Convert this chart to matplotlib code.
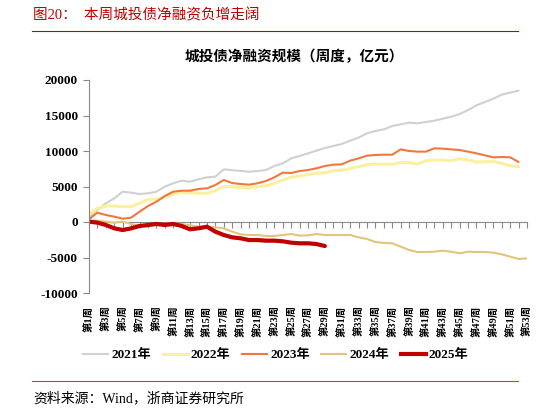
import numpy as np
import matplotlib
matplotlib.use("Agg")
import matplotlib.pyplot as plt
from matplotlib.lines import Line2D

plt.rcParams['font.family'] = ['Liberation Serif', 'Noto Sans CJK SC']
plt.rcParams['axes.unicode_minus'] = False

# weekly cumulative net financing of LGFV bonds (100 million yuan)
weeks = [f"第{i}周" for i in range(1, 54)]

y2021 = [700, 1690, 2630, 3330, 4270, 4130, 3940, 4040, 4270, 4980,
         5450, 5820, 5680, 6010, 6290, 6380, 7420, 7300, 7200, 7090,
         7180, 7320, 7890, 8260, 8960, 9300, 9670, 10050, 10420, 10700,
         10990, 11450, 11880, 12490, 12820, 13050, 13520, 13750, 13990, 13900,
         14080, 14270, 14550, 14830, 15210, 15770, 16430, 16900, 17370, 17940,
         18220, 18500]
y2022 = [1130, 1930, 2250, 2250, 2160, 2160, 2630, 3190, 3190, 3470,
         3940, 4130, 4130, 4040, 4040, 4410, 4980, 4980, 4880, 4790,
         4980, 5070, 5450, 5920, 6290, 6480, 6670, 6850, 6950, 7230,
         7320, 7510, 7790, 8070, 8170, 8150, 8120, 8360, 8360, 8170,
         8640, 8730, 8730, 8640, 8920, 8730, 8450, 8500, 8540, 8260,
         7930, 7790]
y2023 = [400, 1310, 990, 750, 470, 610, 1450, 2250, 2860, 3660,
         4270, 4410, 4410, 4650, 4740, 5210, 5920, 5490, 5350, 5260,
         5450, 5770, 6290, 6950, 6900, 7180, 7320, 7560, 7890, 8070,
         8120, 8640, 8960, 9340, 9440, 9480, 9480, 10230, 10000, 9910,
         9910, 10380, 10330, 10230, 10140, 9910, 9670, 9390, 9110, 9150,
         9110, 8450]
y2024 = [190, 190, 50, -90, 50, -280, -560, -660, -280, -280,
         -190, -280, -470, -660, -660, -750, -890, -1360, -1740, -1830,
         -1830, -1970, -1970, -1830, -1690, -1920, -1880, -1690, -1830, -1830,
         -1830, -1830, -2160, -2390, -2820, -2950, -3000, -3470, -3940, -4230,
         -4230, -4180, -4040, -4180, -4410, -4180, -4230, -4230, -4320, -4550,
         -4880, -5210, -5120]
y2025 = [50, -90, -420, -890, -1130, -890, -560, -420, -280, -420,
         -280, -560, -1030, -890, -660, -1360, -1830, -2160, -2300, -2540,
         -2540, -2630, -2630, -2720, -2910, -3000, -3000, -3100, -3380]

series = [
    ("2021年", y2021, "#D0D0D0", 1.5),
    ("2022年", y2022, "#FAF0A0", 2.2),
    ("2023年", y2023, "#F07840", 1.5),
    ("2024年", y2024, "#E3C47C", 1.5),
    ("2025年", y2025, "#C00000", 3.0),
]

fig = plt.figure(figsize=(5.48, 4.12), dpi=100)
ax = fig.add_axes([89 / 548, 1 - 293 / 412, 438 / 548, 213 / 412])

for name, vals, color, lw in series:
    x = np.arange(1, len(vals) + 1)
    ax.plot(x, vals, color=color, lw=lw, label=name, solid_capstyle='round')

ax.set_xlim(1, 53)
ax.set_ylim(-10000, 20000)
ax.set_yticks(range(-10000, 20001, 5000))
ax.tick_params(axis='y', direction='out', length=4, color='#888888',
               labelsize=9.5, pad=4)
for lab in ax.get_yticklabels():
    lab.set_fontweight('bold')

for s in ['top', 'right', 'bottom']:
    ax.spines[s].set_visible(False)
ax.spines['left'].set_color('#888888')

# week labels at the bottom, no tick marks
ax.set_xticks(range(1, 54, 2))
ax.set_xticklabels(weeks[::2], rotation=90, fontsize=7.5, fontweight='bold')
ax.tick_params(axis='x', length=0, pad=9)

# zero line with tick marks
sec = ax.secondary_xaxis(1 / 3)
sec.set_xticks(range(1, 54))
sec.tick_params(axis='x', direction='out', length=4, color='#888888',
                labelbottom=False, labeltop=False)
sec.spines['bottom'].set_color('#888888')
sec.spines['top'].set_color('#888888')

handles = [Line2D([], [], color=c, lw=lw) for _, _, c, lw in series]
fig.legend(handles, [s[0] for s in series], loc='center', ncol=5,
           bbox_to_anchor=(276 / 548, 1 - 355 / 412), frameon=False,
           prop={'size': 9.5, 'weight': 'bold'}, handlelength=1.9,
           handletextpad=0.25, columnspacing=0.85)

fig.text(185 / 548, 1 - 57 / 412, "城投债净融资规模（周度，亿元）",
         fontsize=10.5, fontweight='bold', va='center', ha='left')

fig.text(33 / 548, 1 - 15 / 412, "图20：  本周城投债净融资负增走阔",
         fontsize=10.5, color='#C00000', va='center', ha='left')
fig.add_artist(Line2D([32 / 548, 518 / 548], [1 - 31 / 412, 1 - 31 / 412],
                      color='#C00000', lw=0.8))
fig.add_artist(Line2D([32 / 548, 518 / 548], [1 - 381 / 412, 1 - 381 / 412],
                      color='#C84040', lw=0.8))
fig.text(33 / 548, 1 - 398 / 412, "资料来源：Wind，浙商证券研究所",
         fontsize=10, va='center', ha='left')

fig.savefig("out.png", dpi=100)
